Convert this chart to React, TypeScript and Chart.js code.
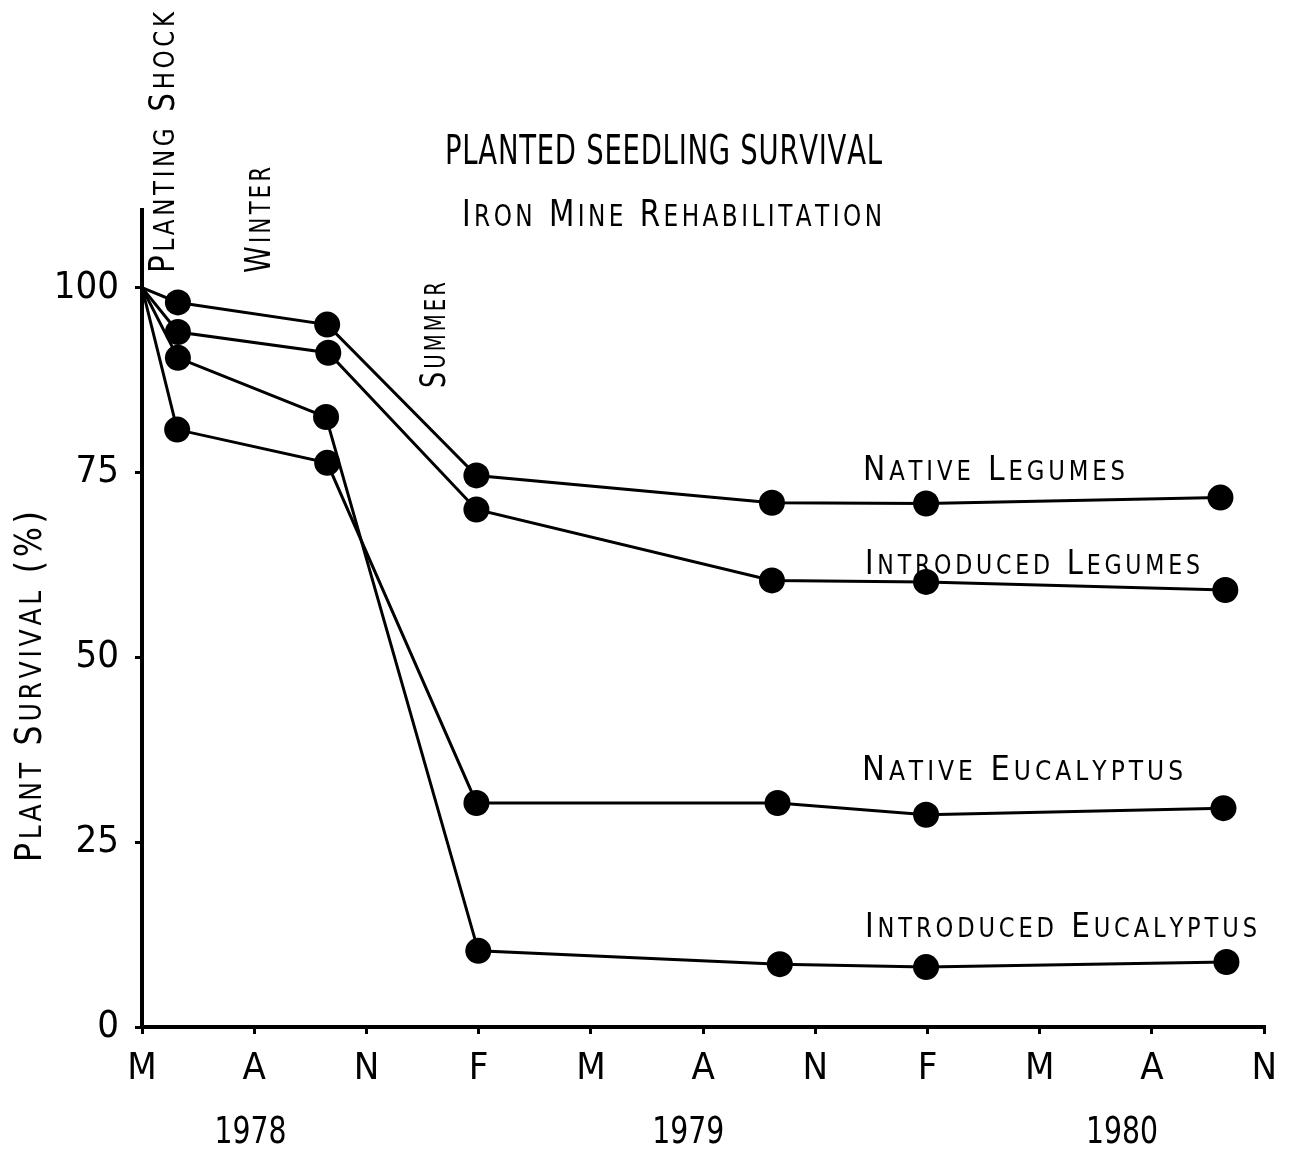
import React, { useEffect, useRef } from "react";
import { Chart, registerables } from "chart.js";

Chart.register(...registerables);

// ---- data ----
const monthTickValues = [0, 3, 6, 9, 12, 15, 18, 21, 24, 27, 30];
const monthTickLabels = ["M", "A", "N", "F", "M", "A", "N", "F", "M", "A", "N"];
const yTickValues = [0, 25, 50, 75, 100];
const yearLabels = ["1978", "1979", "1980"];
const yearLabelMonths = [2.9, 14.6, 26.2];

const nativeLegumesX = [0, 0.96, 4.95, 8.94, 16.84, 20.96, 28.83];
const nativeLegumesY = [100, 98.0, 95.0, 74.6, 70.9, 70.8, 71.6];

const introducedLegumesX = [0, 0.96, 4.98, 8.94, 16.84, 20.96, 28.96];
const introducedLegumesY = [100, 94.0, 91.2, 70.0, 60.4, 60.2, 59.1];

const nativeEucalyptusX = [0, 0.94, 4.95, 8.94, 16.99, 20.96, 28.91];
const nativeEucalyptusY = [100, 80.8, 76.3, 30.3, 30.3, 28.7, 29.6];

const introducedEucalyptusX = [0, 0.96, 4.92, 8.99, 17.05, 20.96, 28.99];
const introducedEucalyptusY = [100, 90.5, 82.5, 10.3, 8.5, 8.1, 8.8];

const seriesNames = [
  "Native Legumes",
  "Introduced Legumes",
  "Native Eucalyptus",
  "Introduced Eucalyptus",
];

const FONT = "'Liberation Sans Narrow', 'DejaVu Sans Condensed', 'Roboto Condensed', sans-serif";

function zip(xs: number[], ys: number[]) {
  return xs.map((x, i) => ({ x, y: ys[i] }));
}

// draws text in small caps (uppercase = big size, lowercase = small caps),
// horizontally squeezed so that it spans `target` pixels
function drawCaps(
  ctx: CanvasRenderingContext2D,
  text: string,
  x: number,
  y: number,
  big: number,
  small: number,
  spacing: number,
  align: "left" | "center" | "right",
  target: number
) {
  const segs = text.split("").map((ch) => {
    const isLower = ch !== ch.toUpperCase();
    return { ch: ch.toUpperCase(), size: isLower ? small : big };
  });
  let natural = 0;
  const widths = segs.map((s) => {
    ctx.font = `${s.size}px ${FONT}`;
    const w = ctx.measureText(s.ch).width + spacing;
    natural += w;
    return w;
  });
  natural -= spacing;
  const sx = target > 0 ? target / natural : 1;
  const total = natural * sx;
  let cx = x;
  if (align === "center") cx = x - total / 2;
  if (align === "right") cx = x - total;
  ctx.textAlign = "left";
  ctx.textBaseline = "alphabetic";
  segs.forEach((s, i) => {
    ctx.font = `${s.size}px ${FONT}`;
    ctx.save();
    ctx.translate(cx, y);
    ctx.scale(sx, 1);
    ctx.fillText(s.ch, 0, 0);
    ctx.restore();
    cx += widths[i] * sx;
  });
}

function drawVertical(
  ctx: CanvasRenderingContext2D,
  text: string,
  x: number,
  y: number,
  big: number,
  small: number,
  spacing: number,
  target: number
) {
  ctx.save();
  ctx.translate(x, y);
  ctx.rotate(-Math.PI / 2);
  drawCaps(ctx, text, 0, 0, big, small, spacing, "left", target);
  ctx.restore();
}

const annotationPlugin = {
  id: "annotations",
  afterDraw(chart: any) {
    const ctx: CanvasRenderingContext2D = chart.ctx;
    const xs = chart.scales.x;
    ctx.save();
    ctx.fillStyle = "#000";
    // titles
    drawCaps(ctx, "PLANTED SEEDLING SURVIVAL", 445, 164, 41, 41, 1, "left", 437);
    drawCaps(ctx, "Iron Mine Rehabilitation", 462, 226, 38, 30, 4, "left", 420);
    // vertical notes
    drawVertical(ctx, "Planting Shock", 174, 273, 36, 28, 4, 261);
    drawVertical(ctx, "Winter", 270, 273, 36, 28, 4, 106);
    drawVertical(ctx, "Summer", 445, 388, 36, 28, 4, 106);
    // y axis title
    drawVertical(ctx, "Plant Survival (%)", 41, 862, 38, 30, 4, 351);
    // series labels
    drawCaps(ctx, seriesNames[0], 863, 480, 34, 26, 4, "left", 262);
    drawCaps(ctx, seriesNames[1], 865, 574, 34, 26, 4, "left", 335);
    drawCaps(ctx, seriesNames[2], 862, 780, 34, 26, 4, "left", 321);
    drawCaps(ctx, seriesNames[3], 865, 937, 34, 26, 4, "left", 392);
    // year labels
    yearLabels.forEach((t, i) => {
      drawCaps(ctx, t, xs.getPixelForValue(yearLabelMonths[i]), 1143, 38, 38, 0, "center", 72);
    });
    ctx.restore();
  },
};

export default function App() {
  const ref = useRef<HTMLCanvasElement | null>(null);

  useEffect(() => {
    document.body.style.margin = "0";
    const canvas = ref.current;
    if (!canvas) return;
    const mk = (label: string, xs: number[], ys: number[]) => ({
      label,
      data: zip(xs, ys),
      borderColor: "#000",
      backgroundColor: "#000",
      borderWidth: 3,
      pointRadius: (c: any) => (c.dataIndex === 0 ? 0 : 13),
      pointBackgroundColor: "#000",
      pointBorderWidth: 0,
      tension: 0,
      showLine: true,
    });
    const chart = new Chart(canvas, {
      type: "scatter",
      data: {
        datasets: [
          mk(seriesNames[0], nativeLegumesX, nativeLegumesY),
          mk(seriesNames[1], introducedLegumesX, introducedLegumesY),
          mk(seriesNames[2], nativeEucalyptusX, nativeEucalyptusY),
          mk(seriesNames[3], introducedEucalyptusX, introducedEucalyptusY),
        ],
      },
      options: {
        animation: false,
        responsive: false,
        maintainAspectRatio: false,
        layout: { padding: { top: 210, right: 19, left: 0, bottom: 0 } },
        plugins: {
          legend: { display: false },
          tooltip: { enabled: false },
          title: { display: false },
        },
        scales: {
          x: {
            type: "linear",
            min: 0,
            max: 30,
            afterBuildTicks: (s: any) => {
              s.ticks = monthTickValues.map((v) => ({ value: v }));
            },
            afterFit: (s: any) => {
              s.height = 1158 - 1027;
            },
            border: { display: true, color: "#000", width: 4 },
            grid: {
              display: true,
              drawOnChartArea: false,
              drawTicks: true,
              tickLength: 7,
              color: "#000",
              lineWidth: 3,
            },
            ticks: {
              autoSkip: false,
              maxRotation: 0,
              padding: 12,
              color: "#000",
              font: { family: FONT, size: 38 },
              callback: (v: any, i: number) => monthTickLabels[i],
            },
          },
          y: {
            type: "linear",
            min: 0,
            max: 110.5,
            afterBuildTicks: (s: any) => {
              s.ticks = yTickValues.map((v) => ({ value: v }));
            },
            afterFit: (s: any) => {
              s.width = 142;
            },
            border: { display: true, color: "#000", width: 4 },
            grid: {
              display: true,
              drawOnChartArea: false,
              drawTicks: true,
              tickLength: 7,
              color: "#000",
              lineWidth: 3,
            },
            ticks: {
              padding: 16,
              color: "#000",
              font: { family: FONT, size: 38 },
              callback: (v: any) => String(v),
            },
          },
        },
      },
      plugins: [annotationPlugin],
    } as any);
    return () => chart.destroy();
  }, []);

  return (
    <div style={{ width: 1289, height: 1158, background: "#fff" }}>
      <canvas ref={ref} width={1289} height={1158} style={{ display: "block" }} />
    </div>
  );
}
